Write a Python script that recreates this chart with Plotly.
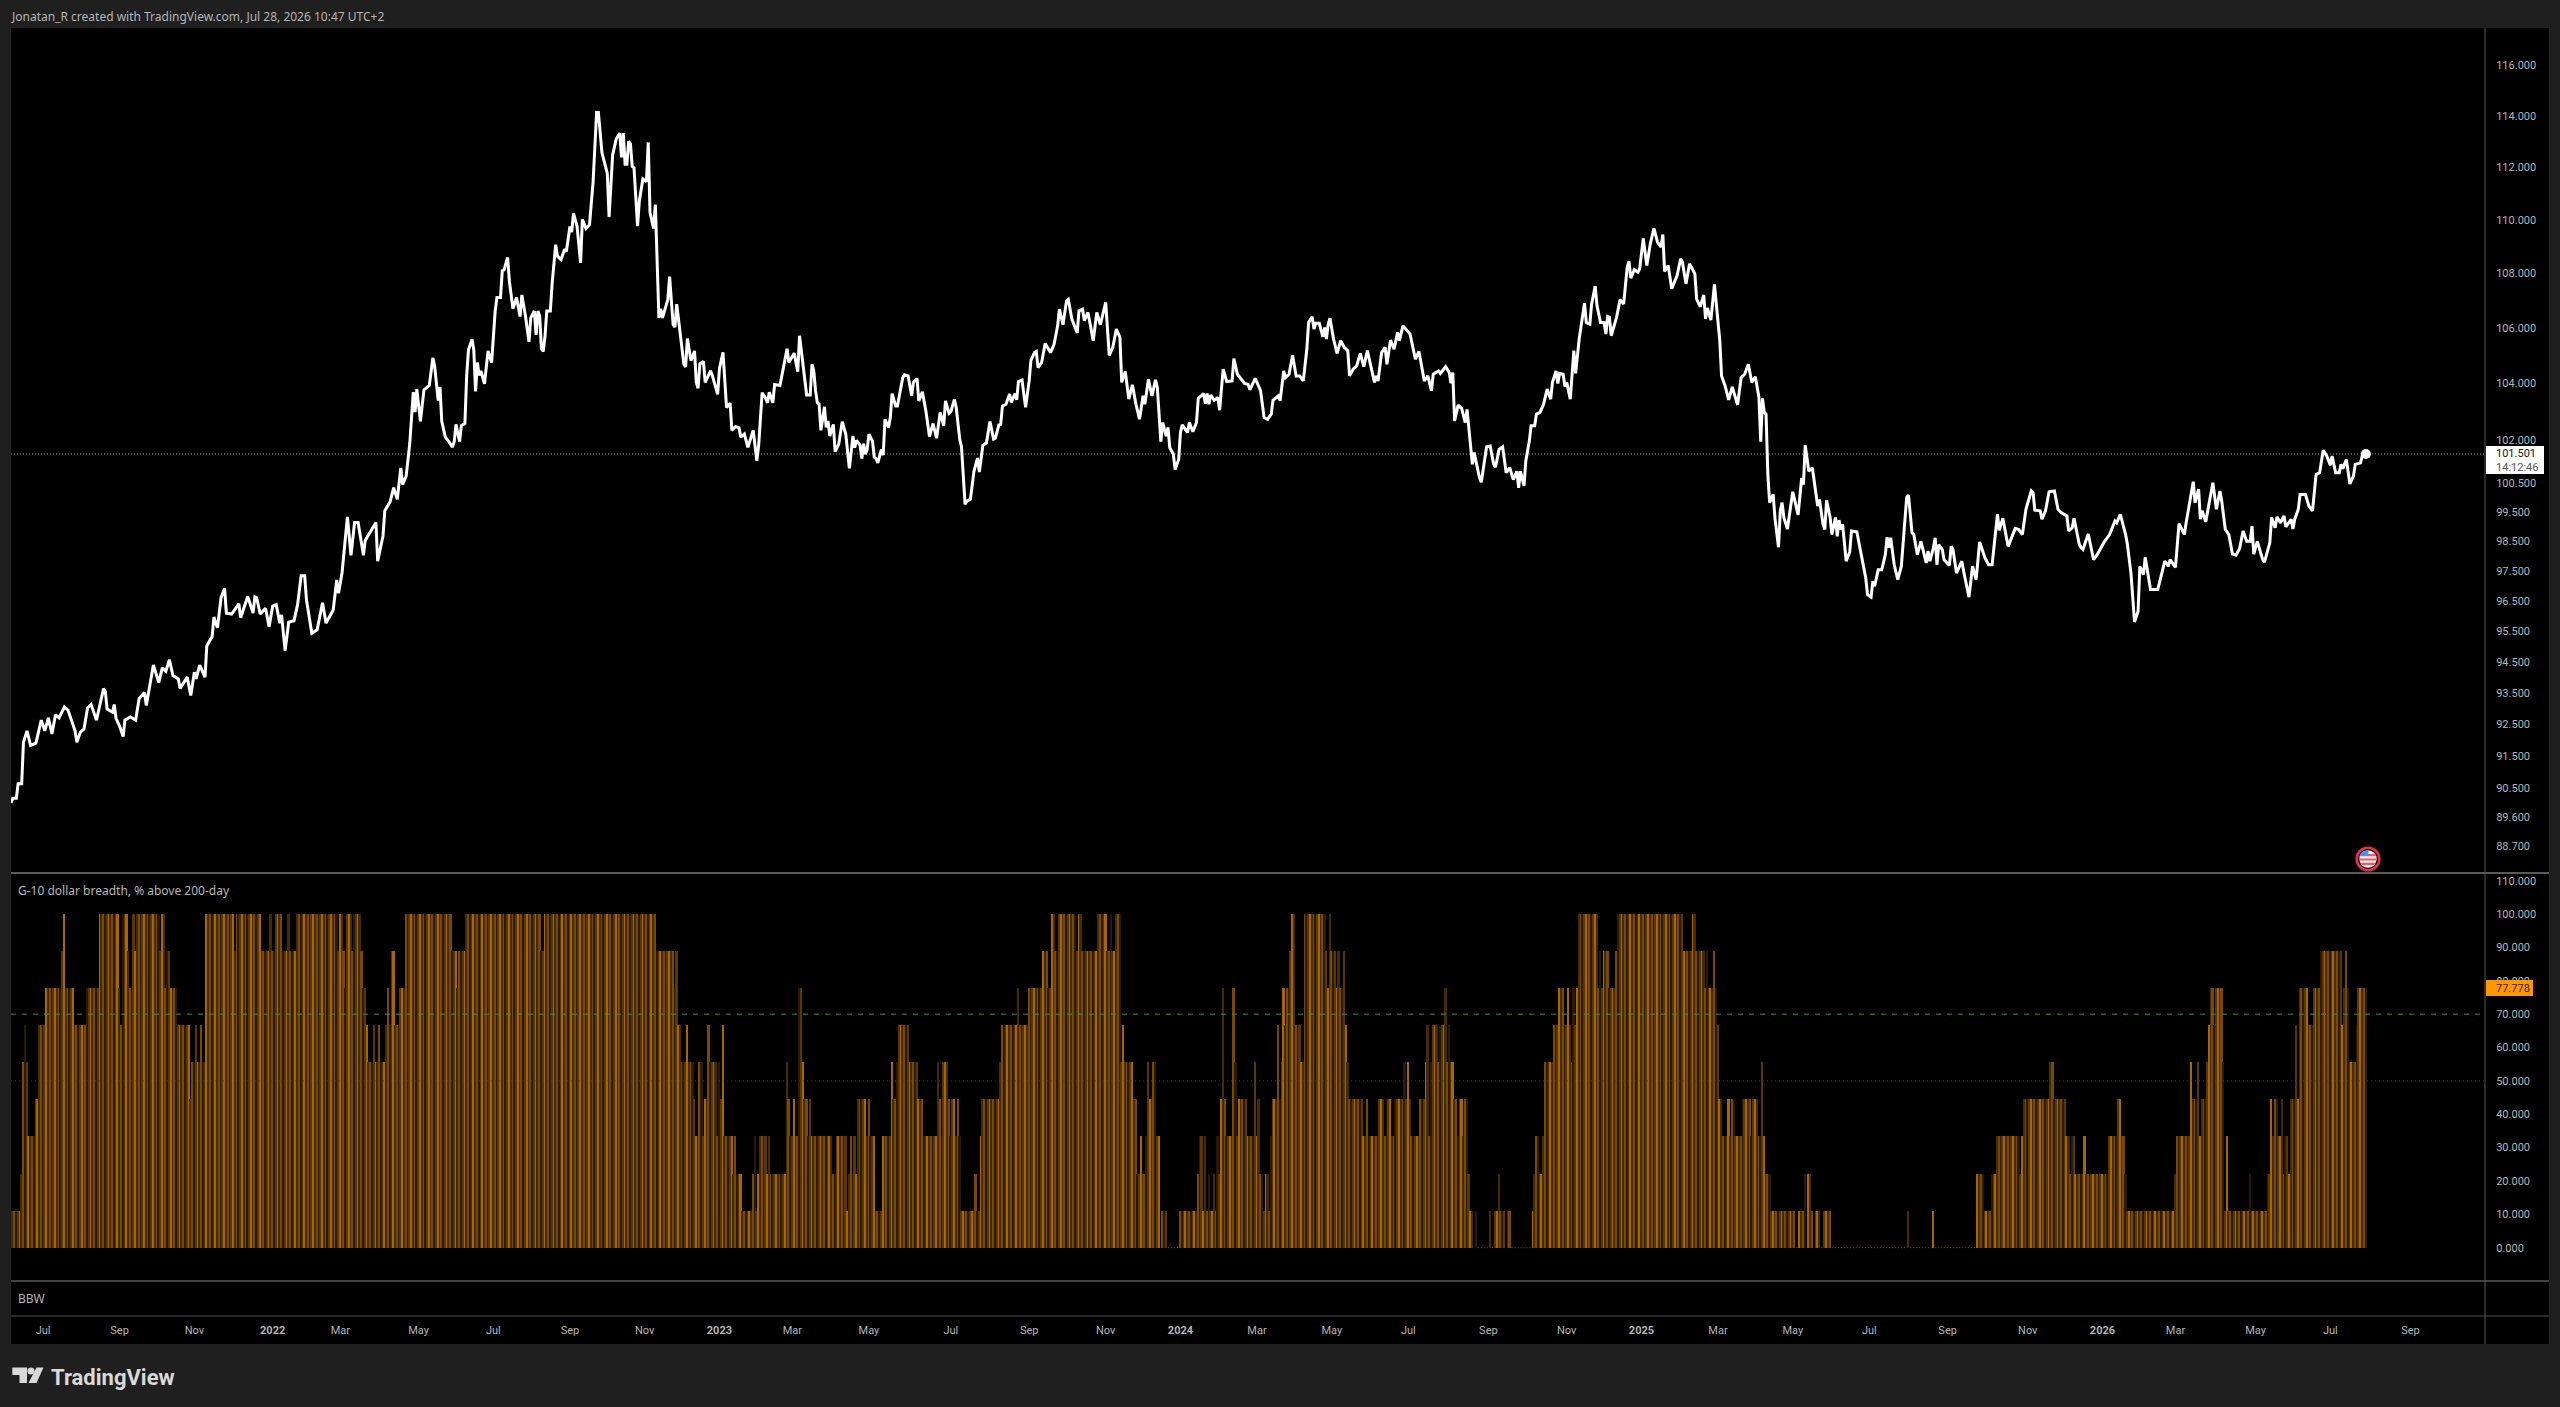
import math
import numpy as np
import plotly.graph_objects as go

W, H = 2560, 1407

# Dollar index closes, sampled at the turning points of the line (bar number, close)
price_bars = [
    0, 1, 3, 4, 6, 7, 9, 11, 14, 15, 17, 19, 21, 23, 25, 27, 30, 32, 36, 37, 39, 41, 43, 45, 48, 50, 52, 53, 54, 57,
    58, 59, 61, 63, 64, 67, 70, 72, 75, 76, 80, 83, 85, 87, 89, 91, 94, 95, 99, 101, 103, 104, 106, 109, 110, 113, 114, 116, 118, 120,
    121, 124, 128, 129, 133, 136, 137, 138, 140, 143, 145, 147, 149, 151, 152, 154, 156, 159, 161, 163, 165, 166, 169, 172, 175, 177, 181, 183, 184, 186,
    189, 191, 193, 195, 198, 199, 203, 205, 206, 209, 210, 213, 215, 217, 219, 220, 222, 224, 226, 227, 228, 230, 232, 234, 235, 237, 238, 240, 241, 242,
    244, 246, 248, 249, 250, 252, 253, 255, 256, 257, 259, 260, 261, 262, 263, 264, 266, 268, 270, 272, 273, 275, 276, 277, 279, 280, 282, 284, 286, 287,
    289, 291, 292, 294, 295, 296, 297, 298, 299, 300, 301, 303, 304, 306, 307, 309, 311, 312, 314, 315, 316, 318, 320, 321, 323, 325, 327, 329, 330, 332,
    335, 336, 338, 340, 342, 343, 344, 345, 346, 347, 348, 349, 350, 352, 353, 355, 357, 358, 359, 361, 362, 364, 365, 366, 369, 370, 372, 373, 374, 378,
    379, 380, 382, 384, 385, 386, 387, 389, 390, 393, 394, 397, 398, 400, 402, 404, 405, 407, 409, 410, 412, 414, 417, 419, 420, 422, 424, 425, 426, 428,
    429, 432, 434, 436, 437, 440, 442, 443, 447, 449, 450, 451, 452, 453, 454, 455, 457, 458, 459, 460, 462, 463, 465, 467, 469, 471, 473, 474, 475, 477,
    478, 479, 480, 481, 482, 484, 485, 486, 487, 489, 490, 491, 493, 494, 495, 497, 498, 499, 501, 502, 504, 506, 507, 509, 510, 512, 514, 516, 518, 520,
    522, 524, 525, 527, 528, 530, 531, 533, 534, 536, 537, 539, 541, 543, 544, 546, 548, 550, 552, 553, 555, 556, 557, 559, 561, 562, 564, 565, 566, 568,
    570, 572, 573, 575, 576, 577, 579, 581, 584, 586, 588, 589, 591, 593, 594, 596, 598, 599, 600, 602, 603, 605, 606, 608, 610, 612, 615, 617, 619, 621,
    623, 624, 626, 628, 630, 632, 634, 636, 637, 639, 641, 643, 644, 646, 647, 649, 650, 651, 653, 654, 656, 657, 658, 661, 662, 664, 666, 667, 670, 671,
    672, 673, 674, 676, 678, 679, 681, 683, 686, 687, 689, 693, 695, 696, 699, 701, 702, 704, 706, 708, 709, 712, 713, 715, 716, 718, 720, 722, 724, 726,
    728, 729, 731, 732, 733, 735, 737, 738, 739, 740, 741, 743, 745, 747, 749, 751, 752, 754, 756, 758, 760, 762, 764, 766, 767, 768, 770, 772, 773, 775,
    777, 779, 780, 782, 786, 789, 791, 794, 796, 798, 799, 802, 803, 806, 808, 809, 810, 811, 813, 815, 817, 818, 821, 822, 825, 826, 829, 831, 833, 834,
    836, 838, 840, 842, 844, 846, 847, 848, 850, 851, 853, 854, 856, 857, 859, 861, 863, 865, 866, 868, 869, 870, 872, 873, 874, 876, 878, 879, 881, 884,
    885, 887, 888, 890, 891, 893, 895, 896, 897, 898, 899, 902, 904, 906, 908, 909, 910, 912, 914, 915, 917, 919, 921, 923, 925, 927, 928, 929, 931, 933,
    936, 938, 939, 941, 943, 946, 947, 949, 951, 952, 953, 955, 957, 960, 961, 963, 965, 967, 970, 972, 974, 976, 978, 980, 982, 983, 984, 985, 986, 987,
    988, 990, 991, 993, 994, 995, 996, 998, 1001, 1004, 1006, 1007, 1008, 1010, 1012, 1014, 1015, 1016, 1018, 1019, 1020, 1022, 1023, 1025, 1026, 1027, 1028, 1029, 1031, 1033,
    1034, 1037, 1039, 1042, 1043, 1045, 1046, 1047, 1049, 1051, 1053, 1054, 1055, 1056, 1058, 1060, 1062, 1065, 1066, 1068, 1069, 1071, 1073, 1076, 1077, 1078, 1080, 1081, 1082, 1083,
    1085, 1086, 1089, 1090, 1091, 1093, 1096, 1097, 1100, 1102, 1104, 1106, 1109, 1111, 1113, 1116, 1117, 1119, 1122, 1124, 1126, 1128, 1130, 1132, 1135, 1136, 1137, 1140, 1141, 1143,
    1145, 1148, 1150, 1152, 1155, 1156, 1158, 1159, 1162, 1163, 1164, 1167, 1170, 1172, 1176, 1179, 1182, 1183, 1185, 1188, 1189, 1191, 1193, 1195, 1196, 1198, 1199, 1202, 1206, 1207,
    1210, 1212, 1213, 1216, 1218, 1221, 1222, 1226, 1227, 1229, 1230, 1231, 1233, 1237, 1239, 1241, 1242, 1244, 1246, 1248, 1250, 1252, 1254, 1256, 1258, 1259, 1260, 1262, 1265, 1266,
    1269, 1270, 1272, 1273, 1275, 1277, 1278, 1281, 1282, 1283, 1285, 1286, 1289, 1291, 1293, 1295, 1297, 1299, 1301, 1303, 1304, 1306, 1308, 1309, 1310, 1312, 1314, 1316, 1317, 1320,
    1321, 1323,
]
price_close = [
    90.03, 90.18, 90.18, 90.63, 90.63, 91.93, 92.29, 91.83, 91.90, 92.15, 92.63, 92.29, 92.70, 92.19, 92.80, 92.70, 93.05, 92.95, 92.29, 91.93, 92.25, 92.34, 93.02, 93.13, 92.63, 93.13, 93.64, 93.54, 92.98, 92.88,
    93.13, 92.69, 92.44, 92.11, 92.63, 92.73, 92.63, 93.32, 93.51, 93.10, 94.40, 93.83, 94.31, 94.20, 94.57, 94.06, 93.95, 93.64, 94.01, 93.42, 94.17, 93.95, 94.40, 94.01, 95.02, 95.33, 95.97, 95.62, 96.61, 96.92,
    96.10, 96.07, 96.41, 95.95, 96.65, 96.10, 96.64, 96.61, 96.07, 96.26, 95.65, 96.33, 96.38, 95.77, 96.04, 94.87, 95.80, 95.85, 96.38, 97.34, 97.34, 96.53, 95.44, 95.55, 96.44, 95.77, 96.20, 97.20, 96.76, 97.45,
    99.33, 98.03, 99.14, 99.14, 98.03, 98.53, 98.92, 99.14, 97.83, 98.69, 99.54, 99.85, 100.33, 99.93, 101.02, 100.44, 100.73, 101.85, 103.68, 102.97, 103.79, 102.65, 103.76, 103.87, 103.92, 104.91, 104.61, 103.38, 103.87, 102.65,
    102.09, 101.93, 101.74, 101.93, 102.54, 101.93, 102.49, 102.57, 104.28, 105.19, 105.58, 105.19, 103.71, 104.74, 104.28, 104.44, 103.98, 105.16, 104.74, 106.61, 107.11, 107.11, 108.10, 108.13, 108.59, 107.70, 106.69, 107.11, 106.41, 107.20,
    106.44, 105.49, 106.36, 106.61, 105.74, 106.61, 106.44, 105.24, 105.14, 105.69, 106.61, 106.61, 107.62, 109.07, 108.64, 108.51, 108.90, 108.81, 109.75, 109.54, 110.25, 109.77, 108.39, 110.02, 109.68, 109.82, 111.42, 114.14, 114.14, 112.57,
    111.77, 110.11, 112.48, 113.10, 113.33, 112.39, 113.33, 112.13, 112.13, 113.01, 112.92, 112.04, 111.99, 109.77, 110.72, 111.56, 111.46, 112.97, 110.28, 109.68, 110.58, 106.36, 106.69, 106.36, 107.03, 107.88, 106.11, 106.02, 106.86, 104.69,
    104.58, 105.61, 104.81, 105.16, 104.03, 103.82, 104.69, 104.78, 104.03, 104.44, 104.28, 103.60, 104.52, 105.11, 103.13, 103.29, 102.33, 102.46, 102.42, 102.09, 102.20, 101.73, 102.33, 101.26, 101.77, 103.66, 103.46, 103.30, 103.68, 103.30,
    103.95, 103.92, 104.61, 105.24, 104.74, 105.08, 104.41, 105.71, 103.58, 103.58, 104.68, 104.44, 103.73, 103.31, 103.25, 102.33, 103.16, 102.43, 102.66, 102.13, 102.54, 101.58, 101.84, 102.63, 102.19, 101.00, 102.13, 101.72, 101.98, 101.81,
    101.34, 101.86, 101.49, 101.66, 102.19, 101.95, 101.39, 101.34, 101.19, 101.66, 101.46, 102.72, 102.43, 102.78, 103.63, 103.19, 103.19, 103.49, 104.20, 104.30, 104.26, 103.55, 104.03, 104.17, 103.37, 103.69, 103.00, 102.11, 102.57, 102.05,
    102.96, 102.49, 103.37, 102.93, 102.99, 103.42, 103.14, 102.02, 101.75, 99.76, 99.87, 99.93, 100.90, 101.36, 100.87, 101.80, 101.89, 102.64, 102.02, 102.05, 102.52, 102.54, 103.19, 103.25, 103.61, 103.31, 103.63, 103.41, 104.06, 104.11,
    103.14, 104.08, 104.82, 105.10, 105.14, 104.56, 104.74, 105.43, 105.10, 105.40, 106.07, 106.68, 106.11, 106.99, 107.04, 106.32, 106.01, 105.81, 106.62, 106.68, 106.26, 106.56, 106.23, 105.53, 106.56, 106.11, 106.93, 105.00, 105.29, 105.95,
    105.65, 104.03, 104.42, 103.43, 103.94, 103.25, 102.72, 103.55, 103.25, 104.14, 103.55, 104.12, 103.85, 101.93, 102.60, 102.13, 102.43, 101.72, 101.49, 100.96, 101.31, 102.25, 102.52, 102.25, 102.60, 102.28, 102.60, 103.46, 103.63, 103.27,
    103.63, 103.25, 103.58, 103.39, 103.49, 103.04, 104.50, 104.06, 104.08, 104.88, 104.32, 103.99, 103.96, 103.76, 104.17, 103.85, 103.73, 102.78, 102.72, 102.90, 103.39, 103.55, 103.37, 104.44, 104.20, 104.32, 105.00, 104.26, 104.26, 104.08,
    105.22, 106.19, 106.40, 105.95, 106.16, 106.16, 105.67, 106.01, 105.59, 106.13, 106.35, 105.59, 105.07, 105.53, 105.29, 105.17, 104.26, 104.50, 104.62, 105.07, 104.59, 105.17, 104.62, 104.03, 104.26, 104.08, 105.10, 105.29, 104.68, 105.55,
    105.22, 105.83, 105.53, 106.07, 105.77, 104.86, 105.14, 104.08, 104.26, 103.73, 104.32, 104.44, 104.35, 104.59, 104.38, 104.00, 104.38, 102.66, 103.22, 103.10, 102.60, 103.07, 101.14, 101.55, 100.67, 100.52, 101.75, 101.78, 101.14, 101.04,
    101.66, 101.75, 100.85, 101.02, 100.61, 100.90, 100.33, 100.90, 100.39, 101.25, 101.95, 102.49, 102.49, 102.90, 102.96, 103.25, 103.79, 103.43, 104.03, 104.44, 103.99, 104.35, 104.32, 103.88, 104.03, 103.43, 105.17, 104.35, 105.59, 106.90,
    106.19, 106.13, 106.87, 107.53, 106.81, 106.19, 106.19, 105.77, 106.41, 106.38, 105.71, 106.38, 107.03, 106.87, 108.23, 108.45, 107.82, 108.14, 108.04, 108.17, 109.30, 108.29, 109.11, 109.68, 109.17, 108.98, 109.45, 108.07, 108.29, 107.43,
    107.92, 108.54, 108.42, 107.61, 108.36, 107.98, 107.05, 106.77, 107.20, 106.32, 106.72, 106.28, 107.59, 105.53, 104.26, 103.90, 103.41, 103.87, 103.23, 104.20, 104.32, 104.68, 104.03, 104.23, 103.49, 101.93, 103.46, 102.96, 102.90, 100.79,
    99.82, 100.10, 99.29, 98.30, 99.54, 99.82, 99.31, 98.92, 100.19, 99.40, 100.67, 100.44, 101.81, 100.90, 101.02, 100.10, 99.70, 99.93, 99.08, 98.90, 99.90, 99.31, 98.73, 99.31, 98.67, 99.22, 98.90, 99.08, 97.83, 98.14,
    98.85, 98.82, 98.17, 97.27, 96.71, 96.63, 97.16, 96.99, 97.54, 97.54, 98.05, 98.64, 98.28, 98.62, 97.71, 97.21, 97.66, 99.99, 100.08, 98.79, 98.73, 98.05, 98.50, 97.77, 98.17, 97.83, 98.28, 98.62, 97.71, 98.39,
    98.22, 97.88, 97.69, 98.33, 98.22, 97.43, 97.83, 97.49, 96.63, 97.66, 97.21, 98.48, 97.94, 97.71, 97.71, 99.42, 98.87, 99.28, 98.33, 98.62, 98.94, 98.90, 98.73, 99.59, 100.22, 100.16, 99.56, 99.54, 99.25, 99.54,
    100.19, 100.22, 99.59, 99.47, 99.36, 98.85, 98.96, 99.28, 98.39, 98.28, 98.22, 98.75, 97.88, 98.05, 98.48, 98.73, 99.19, 99.13, 99.42, 98.73, 98.39, 97.43, 95.81, 96.16, 97.66, 97.38, 97.96, 96.88, 96.88, 97.10,
    97.83, 97.66, 97.88, 97.62, 99.10, 98.73, 99.13, 100.54, 99.82, 100.28, 99.25, 99.54, 99.16, 100.50, 99.59, 100.22, 99.87, 98.90, 98.73, 98.07, 98.03, 98.25, 98.85, 98.50, 98.50, 99.02, 98.07, 98.50, 97.88, 97.80,
    98.45, 99.31, 98.96, 99.33, 99.13, 99.36, 98.99, 99.25, 98.92, 99.25, 99.59, 100.10, 100.10, 99.70, 99.54, 100.79, 100.85, 101.63, 101.43, 101.11, 101.43, 100.85, 100.85, 101.14, 100.99, 101.31, 100.46, 100.73, 101.14, 101.19,
    101.46, 101.501,
]

# Breadth: how many of the nine dollar pairs sit above their 200-day, held until each run's end bar
run_end_bar = [
    6, 7, 8, 9, 10, 14, 16, 20, 29, 30, 31, 36, 43, 50, 61, 62, 63, 66, 67, 69, 70, 71, 84, 85, 87, 88, 90, 94, 101, 102,
    104, 105, 107, 108, 110, 126, 127, 141, 146, 147, 149, 153, 156, 157, 161, 184, 185, 187, 188, 189, 192, 193, 197, 198, 200, 201, 204, 205, 207, 208,
    211, 212, 213, 214, 216, 219, 222, 248, 251, 252, 256, 298, 300, 363, 373, 374, 375, 377, 380, 381, 384, 385, 387, 389, 390, 392, 393, 397, 398, 399,
    400, 401, 406, 407, 408, 411, 417, 418, 419, 420, 421, 425, 426, 427, 436, 437, 438, 440, 441, 443, 445, 446, 448, 449, 450, 462, 464, 470, 471, 472,
    473, 474, 475, 476, 481, 482, 483, 486, 490, 495, 496, 498, 499, 505, 510, 513, 521, 522, 523, 524, 527, 528, 529, 531, 532, 533, 534, 542, 543, 545,
    546, 556, 557, 566, 567, 572, 580, 583, 585, 587, 589, 599, 600, 602, 611, 616, 618, 619, 621, 624, 625, 626, 631, 633, 635, 636, 638, 639, 640, 642, 644,
    646, 647, 650, 657, 667, 668, 670, 671, 672, 673, 674, 676, 677, 678, 679, 680, 681, 682, 683, 687, 688, 689, 690, 695, 699, 700, 701, 702, 704, 705,
    707, 708, 709, 712, 713, 714, 715, 716, 717, 719, 720, 722, 725, 727, 739, 740, 741, 742, 745, 746, 747, 749, 750, 751, 752, 760, 762, 763, 769, 772,
    773, 776, 778, 783, 784, 785, 786, 787, 792, 795, 796, 797, 798, 799, 802, 803, 806, 807, 808, 809, 811, 813, 814, 816, 817, 819, 820, 822, 823, 824,
    831, 832, 834, 836, 837, 840, 841, 843, 855, 856, 857, 859, 861, 862, 867, 870, 873, 875, 876, 877, 878, 879, 880, 881, 892, 893, 894, 895, 898, 902,
    903, 940, 945, 947, 952, 953, 954, 957, 958, 959, 960, 962, 965, 966, 967, 969, 973, 978, 979, 982, 984, 985, 986, 989, 1003, 1005, 1008, 1009, 1010, 1012,
    1013, 1014, 1017, 1019, 1023, 1066, 1067, 1080, 1081, 1105, 1109, 1113, 1116, 1117, 1129, 1130, 1131, 1146, 1148, 1155, 1157, 1158, 1160, 1165, 1166, 1179, 1184, 1186, 1188, 1189,
    1216, 1217, 1225, 1226, 1229, 1230, 1231, 1234, 1235, 1236, 1238, 1239, 1243, 1244, 1245, 1246, 1258, 1259, 1268, 1270, 1271, 1272, 1274, 1276, 1277, 1278, 1280, 1281, 1284, 1285,
    1286, 1291, 1292, 1294, 1298, 1310, 1311, 1312, 1313, 1314, 1318, 1319, 1324,
]
pairs_above = [
    1, 2, 5, 6, 5, 3, 4, 6, 7, 8, 9, 7, 6, 7, 9, 7, 6, 9, 8, 7, 9, 8, 9, 8, 9, 7, 8, 7, 6, 4,
    5, 6, 5, 6, 5, 9, 8, 9, 8, 9, 8, 9, 8, 9, 8, 9, 8, 9, 8, 7, 9, 8, 9, 8, 7, 6, 5, 6, 5, 6,
    5, 6, 7, 6, 8, 6, 7, 9, 8, 7, 8, 9, 8, 9, 8, 7, 8, 6, 5, 6, 5, 4, 3, 5, 3, 4, 6, 5, 3, 5,
    4, 6, 3, 2, 3, 2, 1, 2, 3, 1, 2, 3, 2, 3, 2, 5, 4, 3, 4, 3, 7, 5, 4, 3, 4, 3, 2, 3, 1, 2,
    3, 2, 3, 2, 4, 3, 4, 3, 1, 3, 5, 4, 5, 6, 5, 4, 3, 5, 4, 3, 5, 4, 3, 4, 3, 4, 3, 1, 2, 1,
    3, 4, 5, 6, 7, 6, 7, 8, 7, 9, 8, 9, 8, 9, 8, 9, 8, 9, 8, 9, 5, 6, 5, 4, 2, 3, 2, 3, 5, 4, 5,
    3, 0, 1, 0, 1, 2, 3, 1, 3, 1, 2, 1, 2, 1, 3, 2, 4, 7, 4, 3, 7, 5, 3, 4, 3, 5, 3, 4, 2, 1,
    2, 1, 3, 4, 6, 4, 5, 7, 6, 7, 8, 9, 6, 5, 9, 8, 7, 9, 8, 7, 8, 7, 8, 6, 5, 4, 3, 4, 3, 4,
    3, 4, 3, 4, 5, 4, 5, 4, 3, 4, 5, 6, 3, 5, 6, 5, 6, 7, 5, 6, 5, 4, 3, 4, 3, 4, 2, 1, 0, 1,
    0, 1, 0, 1, 2, 1, 0, 1, 0, 1, 2, 3, 2, 3, 5, 6, 7, 6, 7, 6, 5, 7, 6, 7, 9, 7, 8, 7, 8, 7,
    8, 9, 8, 9, 8, 7, 8, 7, 8, 7, 6, 4, 3, 4, 3, 4, 3, 4, 3, 4, 3, 5, 3, 2, 1, 0, 1, 2, 0, 2,
    1, 0, 1, 0, 1, 0, 1, 0, 1, 0, 2, 1, 2, 3, 3, 2, 3, 4, 5, 4, 3, 2, 3, 2, 3, 2, 3, 4, 3, 2,
    1, 2, 3, 5, 4, 5, 3, 4, 5, 6, 7, 6, 7, 5, 1, 3, 1, 2, 1, 2, 4, 3, 4, 3, 4, 2, 3, 2, 4, 6,
    4, 7, 6, 6, 7, 8, 6, 7, 8, 7, 5, 6, 7,
]

# Tick labels and the bars they sit on
time_ticks = [18, 61, 103, 147, 185, 229, 271, 314, 356, 398, 439, 482, 528, 572, 615, 657,
              700, 742, 785, 830, 874, 916, 959, 1001, 1044, 1088, 1133, 1175, 1216, 1261, 1303, 1348]
time_labels = ["Jul", "Sep", "Nov", "<b>2022</b>", "Mar", "May", "Jul", "Sep", "Nov", "<b>2023</b>", "Mar", "May",
               "Jul", "Sep", "Nov", "<b>2024</b>", "Mar", "May", "Jul", "Sep", "Nov", "<b>2025</b>", "Mar", "May",
               "Jul", "Sep", "Nov", "<b>2026</b>", "Mar", "May", "Jul", "Sep"]
price_ticks = [116, 114, 112, 110, 108, 106, 104, 102, 100.5, 99.5, 98.5, 97.5, 96.5, 95.5,
               94.5, 93.5, 92.5, 91.5, 90.5, 89.6, 88.7]
breadth_ticks = [0, 10, 20, 30, 40, 50, 60, 70, 80, 90, 100, 110]
price_limits = (87.89, 117.50)
breadth_limits = (-9.98, 112.3)
bar_limits = (0, 1389.9)
countdown = "14:12:46"

breadth = np.repeat(pairs_above, np.diff([0] + run_end_bar)) / 9 * 100
bars = np.arange(len(breadth))
last_price = price_close[-1]
last_breadth = float(breadth[-1])

FONT = "Roboto"
NOTE_FONT = "Noto Sans"
AXIS_TEXT = "#b4b4b4"
ORANGE = "255,152,0"
# The histogram's thin columns alternate between these tones
BAR_SHADES = ["#a86500", "#452b00", "#7a4900", "#2a1a00", "#5a3700"]


def fx(px):
    return px / W


def fy(px):
    return 1 - px / H


def circle(cx, cy, r, **style):
    return dict(type="circle", xref="paper", yref="paper", x0=fx(cx - r), x1=fx(cx + r),
                y0=fy(cy + r), y1=fy(cy - r), **style)


def poly(points, fill):
    path = "M " + " L ".join(f"{fx(x):.5f},{fy(y):.5f}" for x, y in points) + " Z"
    return dict(type="path", xref="paper", yref="paper", path=path, fillcolor=fill, line=dict(width=0))


def band(cx, cy, r, top, bottom, fill):
    # Slice of a disc between two horizontal offsets from its centre
    def half(d):
        return math.sqrt(max(r * r - d * d, 0))
    steps = [top + (bottom - top) * i / 4 for i in range(5)]
    left = [(cx - half(d), cy + d) for d in steps]
    right = [(cx + half(d), cy + d) for d in reversed(steps)]
    return poly(left + right, fill)


def hline(px, color, width=1):
    return dict(type="line", xref="paper", yref="paper", x0=fx(11), x1=fx(2549), y0=fy(px), y1=fy(px),
                line=dict(color=color, width=width))


def label(px, py, text, size=12.0, color=AXIS_TEXT, family=NOTE_FONT):
    return dict(xref="paper", yref="paper", x=fx(px), y=fy(py), text=text, showarrow=False,
                xanchor="left", yanchor="middle", font=dict(family=family, size=size, color=color))


fig = go.Figure()

fig.add_trace(go.Bar(x=bars, y=breadth, width=1.0, yaxis="y2",
                     marker=dict(color=[BAR_SHADES[i % len(BAR_SHADES)] for i in bars], line=dict(width=0)),
                     hoverinfo="skip"))
# Bars at zero have no height, so those stretches get a faint dotted baseline
fig.add_trace(go.Scatter(x=bars, y=[0 if v == 0 else None for v in breadth], yaxis="y2", mode="lines",
                         line=dict(color=f"rgba({ORANGE},0.55)", width=1, dash="1px,2px"), hoverinfo="skip"))
fig.add_trace(go.Scatter(x=price_bars, y=price_close, mode="lines",
                         line=dict(color="#ffffff", width=3), hoverinfo="skip"))
fig.add_trace(go.Scatter(x=[price_bars[-1]], y=[last_price], mode="markers",
                         marker=dict(color="#ffffff", size=10), hoverinfo="skip"))

shapes = [
    dict(type="rect", xref="paper", yref="paper", x0=fx(11), x1=fx(2549), y0=fy(1344), y1=fy(28),
         fillcolor="#000000", line=dict(width=0), layer="below"),
    dict(type="line", xref="x", yref="y", x0=bar_limits[0], x1=bar_limits[1], y0=last_price, y1=last_price,
         line=dict(color="rgba(255,255,255,0.55)", width=1, dash="1px,2px")),
    dict(type="line", xref="x", yref="y2", x0=bar_limits[0], x1=bar_limits[1], y0=70, y1=70,
         line=dict(color="#3f9142", width=1, dash="5px,6px")),
    dict(type="line", xref="x", yref="y2", x0=bar_limits[0], x1=bar_limits[1], y0=50, y1=50,
         line=dict(color="rgba(70,70,70,0.8)", width=1, dash="1px,3px")),
    hline(873, "#777777", 1.5),
    hline(1281, "#5a5a5a", 1.5),
    hline(1316, "#4d4d4d", 1),
    dict(type="line", xref="paper", yref="paper", x0=fx(2485), x1=fx(2485), y0=fy(1344), y1=fy(28),
         line=dict(color="#555555", width=1)),
    # Last-price and last-value tags on the scales
    dict(type="rect", xref="paper", yref="paper", x0=fx(2486), x1=fx(2544), y0=fy(474), y1=fy(446),
         fillcolor="#ffffff", line=dict(width=0)),
    dict(type="rect", xref="paper", yref="paper", x0=fx(2486), x1=fx(2533), y0=fy(996), y1=fy(980),
         fillcolor="#ff9800", line=dict(width=0)),
    # US event marker
    circle(2368, 859, 11.3, fillcolor="#000000", line=dict(color="#e6304e", width=2.6)),
    circle(2368, 859, 8.7, fillcolor="#f4f4f4", line=dict(width=0)),
    band(2368, 859, 8.7, -5.0, -2.8, "#f2595f"),
    band(2368, 859, 8.7, -0.6, 1.6, "#f2595f"),
    band(2368, 859, 8.7, 3.8, 6.2, "#f2595f"),
    poly([(2360.3, 856), (2360.8, 853.2), (2363, 851.2), (2368.4, 850.2), (2368.4, 856)], "#4d8ff0"),
    # Wordmark glyph
    poly([(12.3, 1367.5), (27, 1367.5), (27, 1383), (19.5, 1383), (19.5, 1375), (12.3, 1375)], "#d9d9d9"),
    circle(31, 1371, 3.6, fillcolor="#d9d9d9", line=dict(width=0)),
    poly([(36.5, 1367.5), (43.5, 1367.5), (36.5, 1383), (28.5, 1383)], "#d9d9d9"),
]

annotations = [
    label(9, 16, "Jonatan_R created with TradingView.com, Jul 28, 2026 10:47 UTC+2"),
    label(16, 890, "G-10 dollar breadth, % above 200-day"),
    label(16, 1298, "BBW"),
    label(49, 1377, "<b>TradingView</b>", size=22, color="#d9d9d9", family=FONT),
    dict(xref="paper", yref="y", x=fx(2494), y=math.log10(last_price), text=f"{last_price:.3f}", showarrow=False,
         xanchor="left", yanchor="middle", font=dict(family=FONT, size=11, color="#131722")),
    dict(xref="paper", yref="y", x=fx(2494), y=math.log10(last_price), yshift=-14, text=countdown, showarrow=False,
         xanchor="left", yanchor="middle", font=dict(family=FONT, size=11, color="#555555")),
    dict(xref="paper", yref="y2", x=fx(2494), y=last_breadth, text=f"{last_breadth:.3f}", showarrow=False,
         xanchor="left", yanchor="middle", font=dict(family=FONT, size=11, color="#3a2300")),
]

value_axis = dict(side="right", showgrid=False, zeroline=False, showline=False, ticks="outside", ticklen=8,
                  tickcolor="rgba(0,0,0,0)", tickfont=dict(family=FONT, size=11, color=AXIS_TEXT),
                  tickformat=".3f", tickmode="array")

fig.update_layout(
    width=W, height=H, autosize=False, margin=dict(l=0, r=0, t=0, b=0),
    paper_bgcolor="#1f1f1f", plot_bgcolor="rgba(0,0,0,0)", showlegend=False, bargap=0,
    font=dict(family=FONT, color=AXIS_TEXT),
    xaxis=dict(domain=[fx(11), fx(2485)], range=list(bar_limits), anchor="free", position=fy(1316),
               showgrid=False, zeroline=False, showline=False, ticks="outside", ticklen=4,
               tickcolor="rgba(0,0,0,0)", tickmode="array", tickvals=time_ticks, ticktext=time_labels,
               tickfont=dict(family=FONT, size=11, color=AXIS_TEXT), tickangle=0),
    yaxis=dict(domain=[fy(873), fy(28)], type="log",
               range=[math.log10(price_limits[0]), math.log10(price_limits[1])],
               tickvals=price_ticks, **value_axis),
    yaxis2=dict(domain=[fy(1281), fy(873)], range=list(breadth_limits), anchor="x",
                tickvals=breadth_ticks, **value_axis),
    shapes=shapes, annotations=annotations,
)

fig.write_html("out.html", config=dict(displayModeBar=False))
